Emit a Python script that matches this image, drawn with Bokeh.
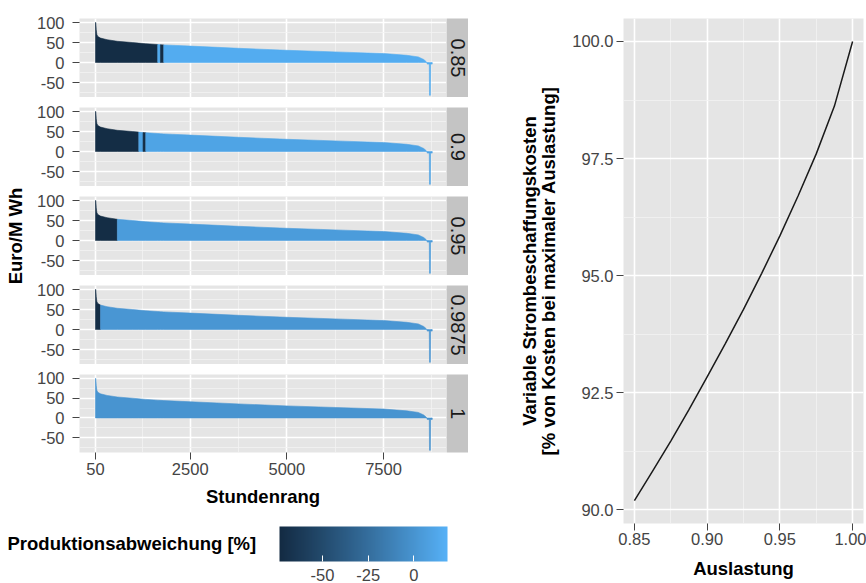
import math
from bokeh.plotting import figure
from bokeh.models import (Range1d, FixedTicker, NumeralTickFormatter, ColumnDataSource,
                          LinearColorMapper, ColorBar, Label)
from bokeh.layouts import row, column
from bokeh.transform import transform
from bokeh.core.properties import value
from bokeh.embed import file_html
from bokeh.resources import INLINE

# ---------------- data ----------------
# price duration curve (Euro/MWh) by hour rank
hour_rank = [50, 58, 70, 85, 110, 180, 350, 615, 1000, 1170, 1280, 1350, 1660, 1730, 1815,
             2500, 3750, 5000, 6250, 7500, 8100, 8400, 8540, 8600, 8620, 8630, 8684, 8690,
             8712, 8718, 8760]
price = [100, 100, 82, 70, 65, 61, 57, 53, 50, 48.5, 47.5, 47, 45, 44.5, 44,
         41, 35.5, 30.5, 26.5, 22.5, 18, 14, 7.5, 2.5, 0, -4, -4, -82,
         -82, -4, -4]

scenarios = ["0.85", "0.9", "0.95", "0.9875", "1"]

# coloured segments (hour-rank intervals) with production deviation [%]
seg_scenario = ["0.85", "0.85", "0.85", "0.85",
                "0.9", "0.9", "0.9", "0.9",
                "0.95", "0.95",
                "0.9875", "0.9875",
                "1"]
seg_start = [50, 1660, 1730, 1815,
             50, 1170, 1280, 1350,
             50, 615,
             50, 180,
             50]
seg_end = [1660, 1730, 1815, 8760,
           1170, 1280, 1350, 8760,
           615, 8760,
           180, 8760,
           8760]
seg_deviation = [-72, 15, -72, 15,
                 -72, 10, -72, 10,
                 -72, 5,
                 -72, 1.5,
                 0]

dev_low, dev_high = -73.5, 18.4
dev_ticks = [-50, -25, 0]

x_ticks = [50, 2500, 5000, 7500]
x_minor = [1275, 3750, 6250, 8750]
y_ticks = [-50, 0, 50, 100]
y_minor = [-75, -25, 25, 75]

utilization = [0.85, 0.8625, 0.875, 0.8875, 0.90, 0.9125, 0.925, 0.9375,
               0.95, 0.9625, 0.975, 0.9875, 1.0]
cost_pct = [90.2, 90.83, 91.47, 92.14, 92.84, 93.55, 94.28, 95.05,
            95.85, 96.7, 97.6, 98.62, 100.0]
util_ticks = [0.85, 0.90, 0.95, 1.00]
util_minor = [0.875, 0.925, 0.975]
cost_ticks = [90.0, 92.5, 95.0, 97.5, 100.0]
cost_minor = [91.25, 93.75, 96.25, 98.75]

# ---------------- style ----------------
FONT = "Liberation Sans"
PANEL_BG = "#E5E5E5"
MINOR = "#F3F3F3"
STRIP_BG = "#C4C4C4"
TXT = "#444444"
TICK_FS = "16.5px"
TITLE_FS = "18.5px"


def hex2rgb(h):
    return [int(h[i:i + 2], 16) / 255 for i in (1, 3, 5)]


def to_lab(rgb):
    lin = [c / 12.92 if c <= 0.04045 else ((c + 0.055) / 1.055) ** 2.4 for c in rgb]
    M = [[0.4124, 0.3576, 0.1805], [0.2126, 0.7152, 0.0722], [0.0193, 0.1192, 0.9505]]
    X, Y, Z = [sum(M[i][j] * lin[j] for j in range(3)) for i in range(3)]
    def f(t):
        return t ** (1 / 3) if t > 0.008856 else 7.787 * t + 16 / 116
    fx, fy, fz = f(X / 0.95047), f(Y / 1.0), f(Z / 1.08883)
    return (116 * fy - 16, 500 * (fx - fy), 200 * (fy - fz))


def from_lab(L, a, b):
    fy = (L + 16) / 116
    fx = fy + a / 500
    fz = fy - b / 200
    def finv(t):
        return t ** 3 if t ** 3 > 0.008856 else (t - 16 / 116) / 7.787
    X, Y, Z = finv(fx) * 0.95047, finv(fy), finv(fz) * 1.08883
    Minv = [[3.2406, -1.5372, -0.4986], [-0.9689, 1.8758, 0.0415], [0.0557, -0.2040, 1.0570]]
    out = []
    for i in range(3):
        c = Minv[i][0] * X + Minv[i][1] * Y + Minv[i][2] * Z
        c = max(0.0, min(1.0, c))
        s = 12.92 * c if c <= 0.0031308 else 1.055 * c ** (1 / 2.4) - 0.055
        out.append(int(round(max(0.0, min(1.0, s)) * 255)))
    return "#%02x%02x%02x" % tuple(out)


lo_lab, hi_lab = to_lab(hex2rgb("#132B43")), to_lab(hex2rgb("#56B1F7"))
palette = [from_lab(*[lo_lab[k] + (hi_lab[k] - lo_lab[k]) * i / 255 for k in range(3)])
           for i in range(256)]
mapper = LinearColorMapper(palette=palette, low=dev_low, high=dev_high)


def style_axes(p):
    for ax in p.axis:
        ax.axis_line_color = None
        ax.major_tick_line_color = TXT
        ax.minor_tick_line_color = None
        ax.major_tick_in = 0
        ax.major_tick_out = 7
        ax.major_label_text_font = FONT
        ax.major_label_text_font_size = TICK_FS
        ax.major_label_text_color = TXT
        ax.axis_label_text_font = FONT
        ax.axis_label_text_font_size = TITLE_FS
        ax.axis_label_text_font_style = "bold"
        ax.axis_label_text_color = "black"
    p.background_fill_color = PANEL_BG
    p.outline_line_color = None
    for g in p.grid:
        g.grid_line_color = "white"
        g.grid_line_width = 1.6
        g.minor_grid_line_color = MINOR
        g.minor_grid_line_width = 0.8


def segment_source(label):
    xs, ys, devs = [], [], []
    for sc, a, b, d in zip(seg_scenario, seg_start, seg_end, seg_deviation):
        if sc != label:
            continue
        idx = [i for i, h in enumerate(hour_rank) if a <= h <= b]
        xr = [hour_rank[i] for i in idx]
        yr = [price[i] for i in idx]
        xs.append(xr + xr[::-1])
        ys.append(yr + [0] * len(xr))
        devs.append(d)
    return ColumnDataSource(dict(xs=xs, ys=ys, dev=devs))


LABEL_W = 26
rows = []
n = len(scenarios)
total_h = 0
for i, label in enumerate(scenarios):
    last = i == n - 1
    top = 18 if i == 0 else 10
    bottom = 56 if last else 0
    h = top + 79 + bottom
    total_h += h
    p = figure(width=446 - LABEL_W, height=h, x_range=Range1d(-364, 9129),
               y_range=Range1d(-87.5, 110), output_backend="svg", toolbar_location=None,
               min_border_left=79 - LABEL_W, min_border_right=0, min_border_top=top,
               min_border_bottom=bottom)
    p.patches("xs", "ys", source=segment_source(label),
              fill_color=transform("dev", mapper), line_color=transform("dev", mapper),
              line_width=0.6)
    p.xaxis.ticker = FixedTicker(ticks=x_ticks, minor_ticks=x_minor)
    p.yaxis.ticker = FixedTicker(ticks=y_ticks, minor_ticks=y_minor)
    p.xgrid.ticker = FixedTicker(ticks=x_ticks, minor_ticks=x_minor)
    p.ygrid.ticker = FixedTicker(ticks=y_ticks, minor_ticks=y_minor)
    p.xaxis.formatter = NumeralTickFormatter(format="0")
    p.yaxis.formatter = NumeralTickFormatter(format="0")
    style_axes(p)
    p.yaxis.major_label_standoff = 8
    p.xaxis.major_label_standoff = 3
    if last:
        p.xaxis.axis_label = "Stundenrang"
        p.xaxis.axis_label_standoff = 8
    else:
        p.xaxis.visible = False

    s = figure(width=22, height=h, x_range=Range1d(0, 1), y_range=Range1d(0, 1),
               output_backend="svg", toolbar_location=None, min_border=0,
               min_border_top=top, min_border_bottom=bottom,
               background_fill_color=STRIP_BG, outline_line_color=None)
    s.axis.visible = False
    s.grid.visible = False
    s.text(x=[0.5], y=[0.5], text=[label], angle=-math.pi / 2, text_align="center",
           text_baseline="middle", text_font=value(FONT), text_font_size="20px",
           text_color="#1A1A1A")
    rows.append(row(p, s))

# shared y title of the facet column (pixel-like ranges, y downwards)
ylab = figure(width=LABEL_W, height=total_h, x_range=Range1d(0, LABEL_W),
              y_range=Range1d(total_h, 0), output_backend="svg", toolbar_location=None,
              min_border=0, outline_line_color=None)
ylab.axis.visible = False
ylab.grid.visible = False
ylab.text(x=[15], y=[235.5], text=["Euro/M Wh"], angle=math.pi / 2, text_align="center",
          text_baseline="middle", text_font=value(FONT), text_font_size=TITLE_FS,
          text_font_style="bold", text_color="black")

leg = figure(width=468, height=74, x_range=Range1d(0, 468), y_range=Range1d(0, 74),
             output_backend="svg", toolbar_location=None, min_border=0,
             outline_line_color=None)
leg.axis.visible = False
leg.grid.visible = False
leg.add_layout(Label(x=7, y=40, text="Produktionsabweichung [%]", text_font=FONT,
                     text_font_size=TITLE_FS, text_font_style="bold", text_color="black",
                     text_baseline="middle"))
cb = ColorBar(color_mapper=mapper, orientation="horizontal", width=168, height=35,
              location=(279, 0), padding=0, margin=0,
              ticker=FixedTicker(ticks=dev_ticks), formatter=NumeralTickFormatter(format="0"),
              major_tick_in=6, major_tick_out=0, major_tick_line_color="white",
              minor_tick_line_color=None, bar_line_color=None, border_line_color=None,
              background_fill_alpha=0, label_standoff=7,
              major_label_text_font=FONT, major_label_text_font_size=TICK_FS,
              major_label_text_color=TXT)
leg.add_layout(cb)

r = figure(width=398, height=583, x_range=Range1d(0.8425, 1.0075),
           y_range=Range1d(89.71, 100.49), output_backend="svg", toolbar_location=None,
           min_border_left=155, min_border_right=3, min_border_top=18, min_border_bottom=60)
r.line(utilization, cost_pct, line_color="#1A1A1A", line_width=1.5)
r.xaxis.ticker = FixedTicker(ticks=util_ticks, minor_ticks=util_minor)
r.yaxis.ticker = FixedTicker(ticks=cost_ticks, minor_ticks=cost_minor)
r.xgrid.ticker = FixedTicker(ticks=util_ticks, minor_ticks=util_minor)
r.ygrid.ticker = FixedTicker(ticks=cost_ticks, minor_ticks=cost_minor)
r.xaxis.formatter = NumeralTickFormatter(format="0.00")
r.yaxis.formatter = NumeralTickFormatter(format="0.0")
style_axes(r)
r.xaxis.axis_label = "Auslastung"
r.xaxis.major_label_standoff = 2
r.xaxis.axis_label_standoff = 10
r.yaxis.major_label_standoff = 3
r.yaxis.axis_label = "Variable Strombeschaffungskosten\n[% von Kosten bei maximaler Auslastung]"
r.yaxis.axis_label_text_line_height = 0.9
r.yaxis.axis_label_standoff = 10

layout = row(column(row(ylab, column(*rows)), leg), r)

open("out.html", "w").write(file_html(layout, INLINE))
